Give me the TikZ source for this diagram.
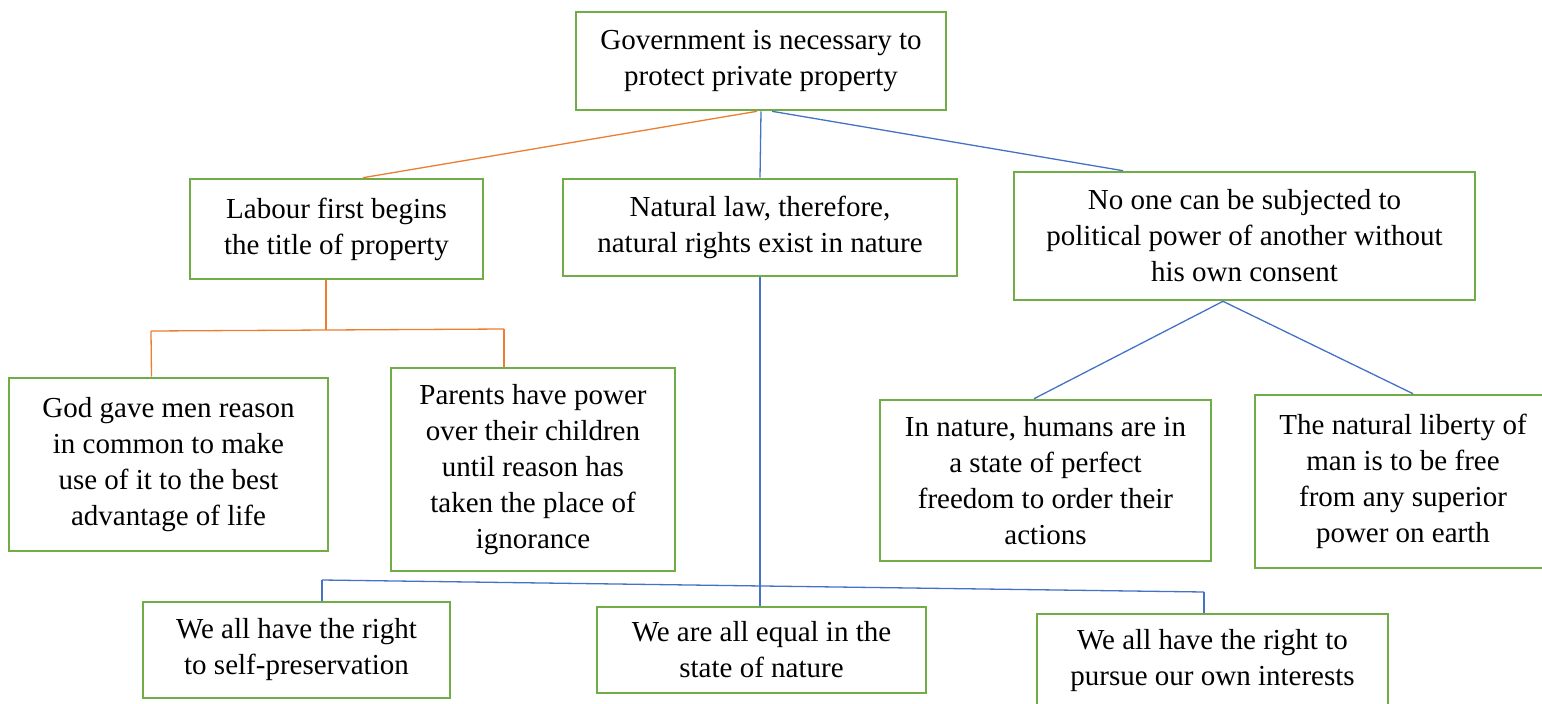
\documentclass[tikz,border=0pt]{standalone}
\usepackage{fontspec}
\setmainfont{LiberationSerif}[Extension=.ttf, UprightFont=*-Regular, BoldFont=*-Bold, ItalicFont=*-Italic, BoldItalicFont=*-BoldItalic]
\definecolor{boxgreen}{HTML}{70AD47}
\definecolor{lineorange}{HTML}{ED7D31}
\definecolor{lineblue}{HTML}{4472C4}
\tikzset{
  box/.style={draw=boxgreen, line width=2.6pt, rectangle, align=center, inner sep=0pt, fill=white,
    font=\rmfamily\fontsize{29}{36}\selectfont},
  orangeline/.style={draw=lineorange, line width=1.3pt},
  blueline/.style={draw=lineblue, line width=1.3pt},
}
\begin{document}
\begin{tikzpicture}[x=1pt,y=-1pt]
\useasboundingbox (0,0) rectangle (1542,704);
\begin{scope}
\clip (0,0) rectangle (1542,704);
\node[box, minimum width=370, minimum height=98] (top) at (761,61) {Government is necessary to\\protect private property};
\node[box, minimum width=293, minimum height=100] (labour) at (336.5,229) {Labour first begins\\the title of property};
\node[box, minimum width=394, minimum height=97] (natlaw) at (760,227.5) {Natural law, therefore,\\natural rights exist in nature};
\node[box, minimum width=461, minimum height=128] (noone) at (1244.5,236) {No one can be subjected to\\political power of another without\\his own consent};
\node[box, minimum width=319, minimum height=173] (god) at (168.5,464.5) {God gave men reason\\in common to make\\use of it to the best\\advantage of life};
\node[box, minimum width=284, minimum height=203] (parents) at (533,469.5) {Parents have power\\over their children\\until reason has\\taken the place of\\ignorance};
\node[box, minimum width=331, minimum height=161] (innature) at (1045.5,480.5) {In nature, humans are in\\a state of perfect\\freedom to order their\\actions};
\node[box, minimum width=296, minimum height=173] (liberty) at (1403,481.5) {The natural liberty of\\man is to be free\\from any superior\\power on earth};
\node[box, minimum width=307, minimum height=96] (selfpres) at (296.5,650) {We all have the right\\to self-preservation};
\node[box, minimum width=329, minimum height=86] (equal) at (761.5,650) {We are all equal in the\\state of nature};
\node[box, minimum width=351, minimum height=94] (pursue) at (1212.5,661) {We all have the right to\\pursue our own interests};

% top level connectors
\draw[orangeline] ([xshift=-4pt]top.south) -- ([xshift=26.5pt]labour.north);
\draw[blueline] (top.south) -- (natlaw.north);
\draw[blueline] ([xshift=11pt]top.south) -- ([xshift=-121.5pt]noone.north);

% labour branch
\coordinate (lj) at (326,330);
\coordinate (ll) at (151,331);
\coordinate (lr) at (504,329);
\draw[orangeline] ([xshift=-10.5pt]labour.south) -- (lj);
\draw[orangeline] (ll) -- (lr);
\draw[orangeline] (ll) -- ([xshift=-17pt]god.north);
\draw[orangeline] (lr) -- ([xshift=-29pt]parents.north);

% natural law branch
\coordinate (bl) at (322,580);
\coordinate (br) at (1204,592);
\draw[blueline] (natlaw.south) -- (natlaw.south |- equal.north);
\draw[blueline] (bl) -- (br);
\draw[blueline] (bl) -- ([xshift=25.5pt]selfpres.north);
\draw[blueline] (br) -- ([xshift=-8.5pt]pursue.north);

% no one branch
\draw[blueline] ([xshift=-21.5pt]noone.south) -- ([xshift=-11.5pt]innature.north);
\draw[blueline] ([xshift=-21.5pt]noone.south) -- ([xshift=10pt]liberty.north);
\end{scope}
\end{tikzpicture}
\end{document}
